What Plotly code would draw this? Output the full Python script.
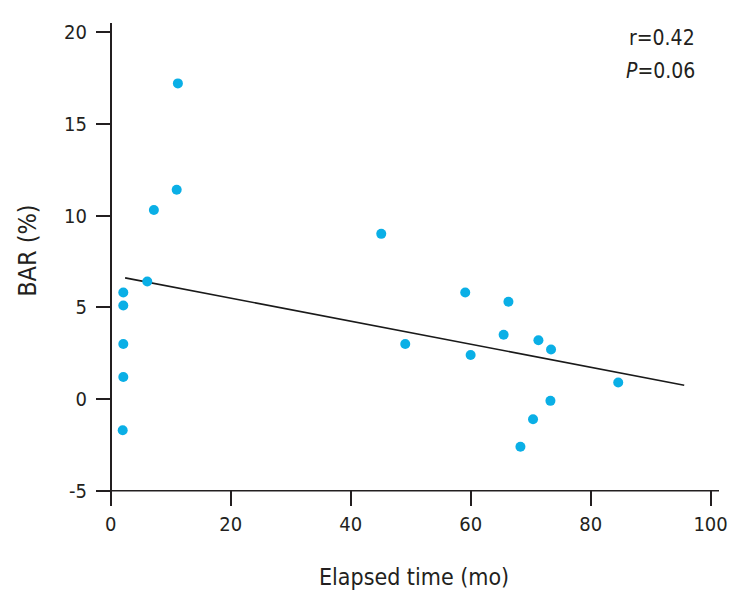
import plotly.graph_objects as go

# Data
elapsed_mo = [2.0, 2.1, 2.1, 2.1, 2.1, 6.1, 7.2, 11.0, 11.2,
              45.1, 49.1, 59.1, 60.0, 65.5, 66.3, 68.3, 70.4, 71.3, 73.3, 73.4, 84.6]
bar_pct = [-1.7, 1.2, 3.0, 5.1, 5.8, 6.4, 10.3, 11.4, 17.2,
           9.0, 3.0, 5.8, 2.4, 3.5, 5.3, -2.6, -1.1, 3.2, -0.1, 2.7, 0.9]
fit_x = [2.4, 95.6]
fit_y = [6.6, 0.75]
x_ticks = [0, 20, 40, 60, 80, 100]
y_ticks = [-5, 0, 5, 10, 15, 20]

FONT = "DejaVu Sans Condensed, Liberation Sans Narrow, sans-serif"
INK = "#231f20"

fig = go.Figure()
fig.add_trace(go.Scatter(x=fit_x, y=fit_y, mode="lines",
                         line=dict(color="#1a1a1a", width=1.6), showlegend=False,
                         hoverinfo="skip"))
fig.add_trace(go.Scatter(x=elapsed_mo, y=bar_pct, mode="markers",
                         marker=dict(color="#0AAFE6", size=10, line=dict(width=0)),
                         showlegend=False))

fig.update_layout(
    width=732, height=597,
    margin=dict(l=96, r=13, t=23, b=91),
    plot_bgcolor="white", paper_bgcolor="white",
    font=dict(family=FONT, size=20, color=INK),
    xaxis=dict(range=[-2.45, 101.4], tickvals=x_ticks,
               ticktext=[str(v) for v in x_ticks], ticks="inside", ticklen=15,
               tickwidth=1.5, tickcolor=INK, showgrid=False, automargin=False,
               tickfont=dict(family=FONT, size=20, color=INK),
               zeroline=True, zerolinecolor=INK, zerolinewidth=1.5,
               showline=False, ticklabelstandoff=4),
    yaxis=dict(range=[-5.83, 20.49], tickvals=y_ticks,
               ticktext=[str(v) for v in y_ticks], ticks="inside", ticklen=15,
               tickwidth=1.5, tickcolor=INK, showgrid=False, automargin=False,
               tickfont=dict(family=FONT, size=20, color=INK),
               zeroline=False, showline=False, ticklabelstandoff=8),
    shapes=[dict(type="line", xref="paper", x0=0, x1=1, yref="y", y0=-5, y1=-5,
                 line=dict(color=INK, width=1.5))],
    annotations=[
        dict(xref="paper", yref="paper", x=0.511, y=-0.147, xanchor="center", yanchor="middle",
             text="Elapsed time (mo)", showarrow=False,
             font=dict(family=FONT, size=23, color=INK)),
        dict(xref="paper", yref="paper", x=-0.111, y=0.530, xanchor="center", yanchor="middle",
             text="BAR (%)", textangle=-90, showarrow=False,
             font=dict(family=FONT, size=25, color=INK)),
        dict(xref="paper", yref="paper", x=0.965, y=0.969, xanchor="right", yanchor="middle",
             text="r=0.42", showarrow=False, font=dict(family=FONT, size=21, color=INK)),
        dict(xref="paper", yref="paper", x=0.965, y=0.9006, xanchor="right", yanchor="middle",
             text="<i>P</i>=0.06", showarrow=False, font=dict(family=FONT, size=21, color=INK)),
    ],
)

fig.write_html("out.html", config={"displayModeBar": False},
               post_script="document.body.style.margin='0';document.body.style.overflow='hidden';")
